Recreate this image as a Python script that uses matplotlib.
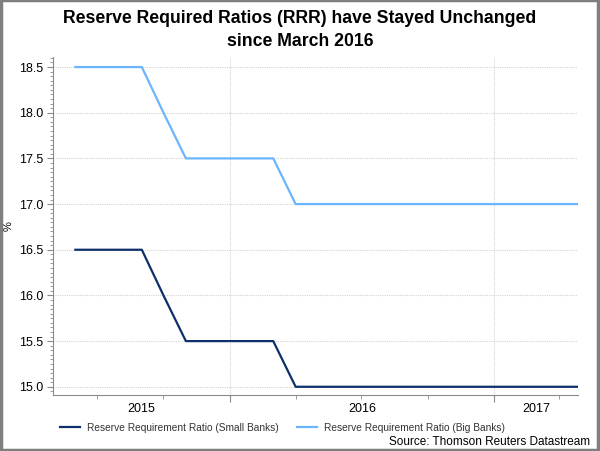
import matplotlib
matplotlib.use("Agg")
import matplotlib.pyplot as plt
import matplotlib.dates as mdates
from matplotlib.ticker import MultipleLocator, FixedLocator, NullFormatter
from matplotlib.patches import Rectangle
from matplotlib.lines import Line2D
import pandas as pd
import datetime as dt

dates = pd.date_range("2015-06-01", "2017-05-01", freq="MS")
big_banks = [18.5, 18.5, 18.5, 18.5, 18.0, 17.5, 17.5, 17.5, 17.5, 17.5,
             17.0, 17.0, 17.0, 17.0, 17.0, 17.0, 17.0, 17.0, 17.0, 17.0,
             17.0, 17.0, 17.0, 17.0]
small_banks = [16.5, 16.5, 16.5, 16.5, 16.0, 15.5, 15.5, 15.5, 15.5, 15.5,
               15.0, 15.0, 15.0, 15.0, 15.0, 15.0, 15.0, 15.0, 15.0, 15.0,
               15.0, 15.0, 15.0, 15.0]
year_labels = ["2015", "2016", "2017"]
series_names = ["Reserve Requirement Ratio (Small Banks)",
                "Reserve Requirement Ratio (Big Banks)"]

title = "Reserve Required Ratios (RRR) have Stayed Unchanged\nsince March 2016"
source = "Source: Thomson Reuters Datastream"

dark = "#0d2f6c"
light = "#6cb4fd"
gray = "#8a8a8a"

plt.rcParams['font.family'] = ['Liberation Sans', 'DejaVu Sans']

fig = plt.figure(figsize=(6.0, 4.51), dpi=100)
ax = fig.add_axes([53/600, 1-395/451, (578-53)/600, (395-57)/451])

ax.plot(dates, small_banks, color=dark, lw=1.6, zorder=3)
ax.plot(dates, big_banks, color=light, lw=1.6, zorder=3)

xmin = mdates.date2num(dt.datetime(2015, 5, 1))
xmax = mdates.date2num(dt.datetime(2017, 4, 27))
ax.set_xlim(xmin, xmax)
ax.set_ylim(14.91, 18.61)

# spines
for s in ["top", "right"]:
    ax.spines[s].set_visible(False)
for s in ["left", "bottom"]:
    ax.spines[s].set_color(gray)
    ax.spines[s].set_linewidth(0.8)

# y ticks
ax.yaxis.set_major_locator(MultipleLocator(0.5))
ax.yaxis.set_minor_locator(MultipleLocator(0.05))
ax.yaxis.set_major_formatter(matplotlib.ticker.FormatStrFormatter("%.1f"))
ax.tick_params(axis="y", which="major", length=4, color=gray, labelsize=9, pad=3)
ax.tick_params(axis="y", which="minor", length=2, color=gray)
ax.set_ylabel("%", fontsize=8)
ax.yaxis.set_label_coords((14 - 53) / 525, 0.5)

# x ticks: year boundaries major, quarters minor
yb = [mdates.date2num(dt.datetime(y, 1, 1)) for y in (2016, 2017)]
quarters = [mdates.date2num(d) for d in pd.date_range("2015-04-01", "2017-04-01", freq="QS")]
quarters = [q for q in quarters if xmin < q < xmax and q not in yb]
ax.xaxis.set_major_locator(FixedLocator(yb))
ax.xaxis.set_major_formatter(NullFormatter())
bounds = [xmin] + yb + [xmax]
mids = [(bounds[i] + bounds[i+1]) / 2 for i in range(3)]
ax.set_xticks(quarters, minor=True)
ax.tick_params(axis="x", which="major", length=5, color=gray)
ax.tick_params(axis="x", which="minor", length=3, color=gray)
for m, lab in zip(mids, year_labels):
    ax.text(m, -0.024, lab, transform=ax.get_xaxis_transform(), ha="center",
            va="top", fontsize=9)

# grid
ax.grid(True, which="major", axis="both", color="#d4d4d4", linestyle=(0, (1, 1)), lw=0.8)

# title
fig.text(0.5, 1-30/451, title, ha="center", va="center", fontsize=12.7,
         fontweight="bold", linespacing=1.5)

# legend
handles = [Line2D([], [], color=dark, lw=1.6), Line2D([], [], color=light, lw=1.6)]
leg = fig.legend(handles, series_names, loc="center left",
                 bbox_to_anchor=(60/600, 1-428/451), ncol=2, frameon=False,
                 fontsize=7.25, handlelength=2.0, handletextpad=0.7,
                 columnspacing=1.8, borderaxespad=0, borderpad=0)
for t in leg.get_texts():
    t.set_color("#333333")

fig.text(590/600, 1-442/451, source, ha="right", va="center", fontsize=8.5)

# border
fig.add_artist(Rectangle((0.002, 0.003), 0.995, 0.996, transform=fig.transFigure,
                         fill=False, edgecolor="#7f7f7f", lw=2.5))

fig.savefig("out.png", dpi=100)
